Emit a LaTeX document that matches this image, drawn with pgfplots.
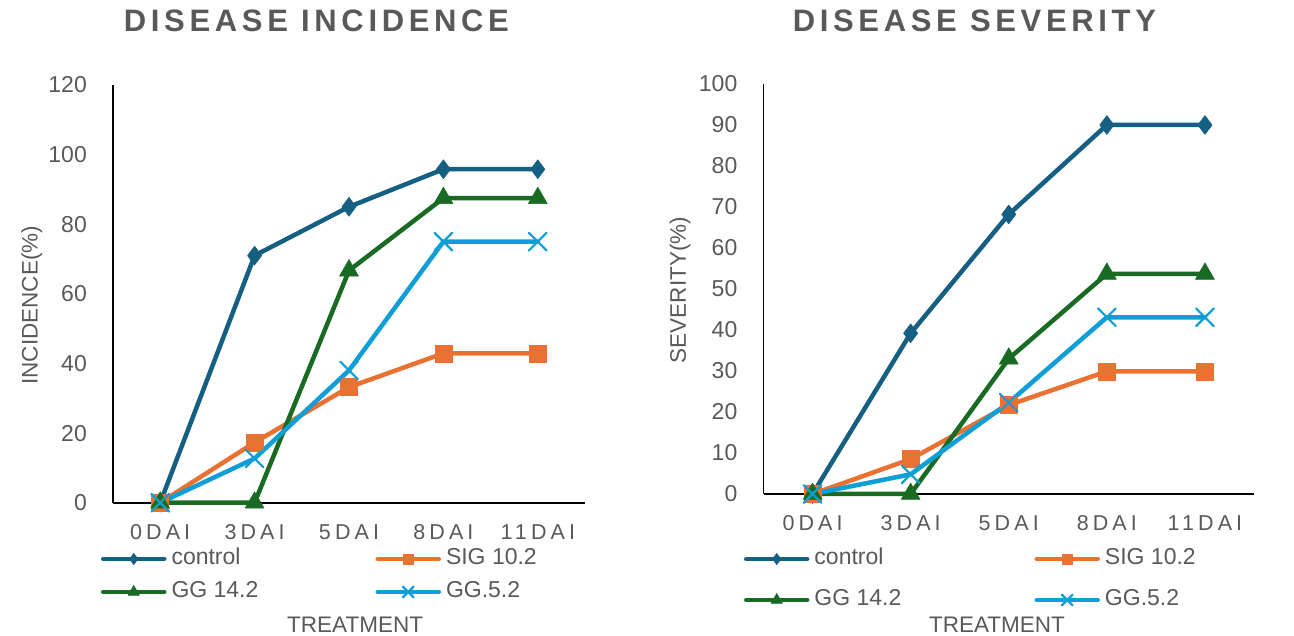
\documentclass[border=0pt]{standalone}
\usepackage{fontspec}
\setmainfont{Liberation Sans}
\newfontfamily\spacedfont[LetterSpace=19]{Liberation Sans}
\newfontfamily\titlefont[LetterSpace=15]{Liberation Sans}
\usepackage{pgfplots}
\pgfplotsset{compat=1.18}
\definecolor{cA}{HTML}{156082}
\definecolor{cB}{HTML}{E97132}
\definecolor{cC}{HTML}{196B24}
\definecolor{cD}{HTML}{0F9ED5}
\definecolor{txt}{HTML}{595959}
\pgfplotsset{
  mystyle/.style={
    scale only axis,
    axis x line*=bottom, axis y line*=left,
    axis line style={-, line width=1.8pt, black},
    xmin=-0.5, xmax=4.5, ymin=0,
    xtick={0,1,2,3,4}, xticklabels={0DAI,3DAI,5DAI,8DAI,11DAI},
    major tick length=0pt, tick style={draw=none},
    /pgf/number format/assume math mode=true,
    yticklabel style={font=\fontsize{23}{27}\selectfont, text=txt, anchor=east, inner sep=0pt, xshift=-26pt},
    xticklabel style={font=\spacedfont\fontsize{21.5}{25}\selectfont, text=txt, anchor=north, inner sep=0pt, yshift=-21.5pt},
    clip=false,
    title style={font=\titlefont\bfseries\fontsize{31}{36}\selectfont, text=txt, anchor=center},
    xlabel style={font=\fontsize{22.5}{27}\selectfont, text=txt, anchor=center},
    ylabel style={font=\fontsize{22.5}{27}\selectfont, text=txt, anchor=center},
    legend columns=2,
    legend cell align=left,
    legend style={draw=none, fill=none, inner sep=0pt, outer sep=0pt,
      font=\fontsize{23}{27}\selectfont, text=txt,
      nodes={inner sep=0pt, text height=16pt, text depth=5pt},
      /tikz/every odd column/.style={column sep=5pt}},
    legend image code/.code={\draw[mark repeat=2,mark phase=2,#1,/tikz/every mark/.append style={scale=0.6}] plot coordinates {(0pt,0pt) (30.5pt,0pt) (61pt,0pt)};},
  },
  sA/.style={color=cA, line width=4.5pt, line join=round, line cap=round, mark=diamond*, mark size=9.5pt, mark options={line width=0.5pt}},
  sB/.style={color=cB, line width=4.5pt, line join=round, line cap=round, mark=square*, mark size=8.5pt, mark options={line width=0.5pt}},
  sC/.style={color=cC, line width=4.5pt, line join=round, line cap=round, mark=triangle*, mark size=11pt, mark options={line width=0.5pt}},
  sD/.style={color=cD, line width=4.5pt, line join=round, line cap=round, mark=x, mark size=12.5pt, mark options={line width=2.2pt}},
}
\begin{document}
\begin{tikzpicture}
\useasboundingbox (0,0) rectangle (1294pt,635pt);
% ---------- Disease incidence ----------
\begin{axis}[mystyle,
  at={(113pt,132.3pt)}, anchor=south west,
  width=472pt, height=417.7pt,
  ymax=120, ytick={0,20,40,60,80,100,120},
  title={DISEASE INCIDENCE},
  title style={at={(axis description cs:0.431,1.140)}},
  xlabel={TREATMENT},
  xlabel style={at={(axis description cs:0.513,-0.293)}},
  ylabel={INCIDENCE(\%)},
  ylabel style={at={(axis description cs:-0.172,0.473)}},
  legend style={at={(axis description cs:-0.0254,-0.1096)}, anchor=north west, row sep=12pt},
]
\addplot[sA] coordinates {(0,0) (1,71) (2,85) (3,95.8) (4,95.8)};
\addlegendentry{\makebox[204pt][l]{control}}
\addplot[sB] coordinates {(0,0) (1,17.3) (2,33.2) (3,42.9) (4,42.9)};
\addlegendentry{SIG 10.2}
\addplot[sC] coordinates {(0,0) (1,0) (2,66.7) (3,87.5) (4,87.5)};
\addlegendentry{\makebox[204pt][l]{GG 14.2}}
\addplot[sD] coordinates {(0,0) (1,12.7) (2,38) (3,75) (4,75)};
\addlegendentry{GG.5.2}
\end{axis}
% ---------- Disease severity ----------
\begin{axis}[mystyle,
  at={(763.5pt,141pt)}, anchor=south west,
  width=490.5pt, height=410pt,
  ymax=100, ytick={0,10,20,30,40,50,60,70,80,90,100},
  title={DISEASE SEVERITY},
  title style={at={(axis description cs:0.430,1.139)}},
  xlabel={TREATMENT},
  xlabel style={at={(axis description cs:0.476,-0.3195)}},
  ylabel={SEVERITY(\%)},
  ylabel style={at={(axis description cs:-0.170,0.4976)}},
  legend style={at={(axis description cs:-0.0398,-0.133)}, anchor=north west, row sep=20pt},
]
\addplot[sA] coordinates {(0,0) (1,39.2) (2,68.2) (3,90) (4,90)};
\addlegendentry{\makebox[220pt][l]{control}}
\addplot[sB] coordinates {(0,0) (1,8.5) (2,21.7) (3,29.9) (4,29.9)};
\addlegendentry{SIG 10.2}
\addplot[sC] coordinates {(0,0) (1,0) (2,33) (3,53.7) (4,53.7)};
\addlegendentry{\makebox[220pt][l]{GG 14.2}}
\addplot[sD] coordinates {(0,0) (1,4.8) (2,22.3) (3,43.1) (4,43.1)};
\addlegendentry{GG.5.2}
\end{axis}
\end{tikzpicture}
\end{document}
